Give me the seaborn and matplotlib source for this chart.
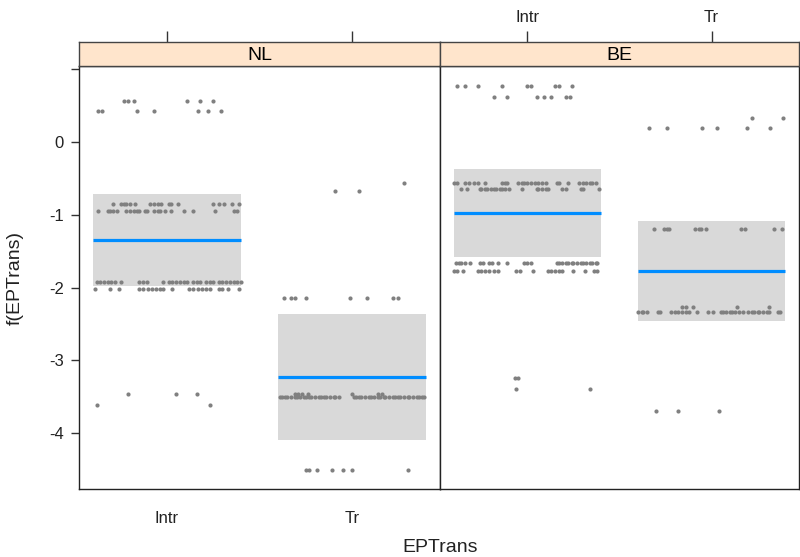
import pandas as pd
import seaborn as sns
import matplotlib.pyplot as plt

sns.set_theme(style="white")
plt.rcParams["font.family"] = ["Liberation Sans", "DejaVu Sans"]

countries = ["NL", "BE"]
levels = ["Intr", "Tr"]

# fitted effect and confidence band per level (Intr, Tr)
fit_nl = [-1.35, -3.23]
lower_nl = [-1.98, -4.10]
upper_nl = [-0.72, -2.37]
fit_be = [-0.98, -1.78]
lower_be = [-1.58, -2.46]
upper_be = [-0.37, -1.08]

# partial residuals: (value, horizontal jitter of each point)
nl_intr_rows = [
    (0.57, [-0.23, -0.21, -0.18, 0.11, 0.18, 0.25]),
    (0.42, [-0.37, -0.35, -0.16, -0.07, 0.17, 0.22, 0.29]),
    (-0.85, [-0.29, -0.25, -0.23, -0.22, -0.20, -0.17, -0.09, -0.07, -0.05, -0.03,
             0.01, 0.02, 0.06, 0.25, 0.28, 0.31, 0.35, 0.39]),
    (-0.95, [-0.37, -0.32, -0.31, -0.29, -0.27, -0.22, -0.20, -0.18, -0.16, -0.15, -0.12,
             -0.11, -0.07, -0.05, -0.04, -0.01, 0.02, 0.09, 0.14, 0.26, 0.36, 0.38]),
    (-1.93, [-0.38, -0.36, -0.34, -0.32, -0.30, -0.28, -0.25, -0.15, -0.13, -0.11,
             -0.02, 0.01, 0.03, 0.05, 0.07, 0.09, 0.11, 0.14, 0.16, 0.18, 0.21, 0.23,
             0.25, 0.28, 0.30, 0.32, 0.34, 0.36, 0.38, 0.40]),
    (-2.02, [-0.39, -0.31, -0.26, -0.15, -0.13, -0.10, -0.08, -0.06, -0.04, -0.02, 0.03,
             0.12, 0.14, 0.17, 0.19, 0.21, 0.23, 0.28, 0.30, 0.33, 0.39]),
    (-3.47, [-0.21, 0.05, 0.16]),
    (-3.62, [-0.38, 0.23]),
]
nl_tr_rows = [
    (-0.56, [0.28]),
    (-0.68, [-0.09, 0.04]),
    (-2.14, [-0.37, -0.33, -0.31, -0.25, -0.01, 0.08, 0.22, 0.25]),
    (-3.47, [-0.31, -0.29, -0.27, -0.24, 0.00, 0.14, 0.16]),
    (-3.51, [-0.39, -0.38, -0.36, -0.35, -0.33, -0.31, -0.30, -0.28, -0.26, -0.25, -0.23,
             -0.22, -0.20, -0.18, -0.17, -0.15, -0.14, -0.12, -0.10, -0.09, -0.07, 0.01,
             0.02, 0.04, 0.05, 0.07, 0.09, 0.10, 0.12, 0.14, 0.15, 0.17, 0.18, 0.20, 0.22,
             0.23, 0.25, 0.26, 0.28, 0.30, 0.31, 0.33, 0.35, 0.36, 0.38, 0.39]),
    (-4.51, [-0.25, -0.23, -0.19, -0.11, -0.05, 0.00, 0.30]),
]
be_intr_rows = [
    (0.77, [-0.38, -0.34, -0.27, -0.14, 0.00, 0.02, 0.15, 0.17, 0.24]),
    (0.62, [-0.18, -0.11, 0.05, 0.09, 0.13, 0.21, 0.23]),
    (-0.57, [-0.40, -0.38, -0.34, -0.32, -0.29, -0.27, -0.23, -0.14, -0.12, -0.11, -0.05,
             -0.03, -0.02, 0.00, 0.02, 0.04, 0.06, 0.08, 0.10, 0.16, 0.17, 0.22, 0.28,
             0.30, 0.32, 0.34, 0.35, 0.37]),
    (-0.65, [-0.36, -0.33, -0.26, -0.25, -0.23, -0.22, -0.20, -0.18, -0.17, -0.15, -0.14,
             -0.12, -0.10, -0.03, 0.05, 0.06, 0.08, 0.10, 0.11, 0.19, 0.21, 0.29, 0.30,
             0.39]),
    (-1.67, [-0.39, -0.37, -0.36, -0.34, -0.31, -0.26, -0.24, -0.21, -0.19, -0.16, -0.11,
             -0.02, 0.00, 0.02, 0.16, 0.17, 0.19, 0.21, 0.22, 0.24, 0.25, 0.27, 0.29,
             0.30, 0.32, 0.34, 0.35, 0.37, 0.38]),
    (-1.78, [-0.40, -0.38, -0.35, -0.27, -0.25, -0.23, -0.21, -0.18, -0.16, -0.06, -0.04,
             0.03, 0.11, 0.13, 0.15, 0.17, 0.19, 0.25, 0.31, 0.36, 0.38]),
    (-3.24, [-0.07, -0.05]),
    (-3.40, [-0.06, 0.34]),
]
be_tr_rows = [
    (0.33, [0.22, 0.39]),
    (0.19, [-0.34, -0.24, -0.05, 0.03, 0.19, 0.32]),
    (-1.19, [-0.31, -0.26, -0.24, -0.23, -0.09, -0.07, -0.06, -0.03, 0.16, 0.18, 0.34, 0.38]),
    (-2.27, [-0.16, -0.14, -0.10, 0.14, 0.31]),
    (-2.34, [-0.40, -0.38, -0.37, -0.35, -0.29, -0.28, -0.22, -0.20, -0.18, -0.16, -0.14,
             -0.12, -0.08, -0.02, 0.01, 0.05, 0.06, 0.08, 0.10, 0.11, 0.13, 0.15, 0.17,
             0.20, 0.22, 0.23, 0.25, 0.26, 0.28, 0.30, 0.31, 0.36, 0.37]),
    (-3.70, [-0.30, -0.18, 0.04]),
]

groups = {
    ("NL", "Intr"): nl_intr_rows,
    ("NL", "Tr"): nl_tr_rows,
    ("BE", "Intr"): be_intr_rows,
    ("BE", "Tr"): be_tr_rows,
}
records = []
for (country, level), rows in groups.items():
    for value, jitter in rows:
        for j in jitter:
            records.append({"country": country, "x": levels.index(level) + j, "y": value})
df = pd.DataFrame(records)

fits = {"NL": (fit_nl, lower_nl, upper_nl), "BE": (fit_be, lower_be, upper_be)}

W, H = 800, 557
fig = plt.figure(figsize=(W / 100, H / 100), dpi=100)
panel_bounds = {"NL": (79, 440), "BE": (440, 799)}
top_px, bottom_px, strip_top = 66, 489, 42
xlim = (-0.475, 1.475)

for i, country in enumerate(countries):
    x0, x1 = panel_bounds[country]
    ax = fig.add_axes([x0 / W, 1 - bottom_px / H, (x1 - x0) / W, (bottom_px - top_px) / H])
    sx = fig.add_axes([x0 / W, 1 - top_px / H, (x1 - x0) / W, (top_px - strip_top) / H])

    fit, lo, hi = fits[country]
    for k in range(len(levels)):
        ax.fill_between([k - 0.4, k + 0.4], lo[k], hi[k], color="#d9d9d9", lw=0, zorder=1)
    sns.scatterplot(data=df[df["country"] == country], x="x", y="y", ax=ax,
                    color="#808080", s=9, linewidth=0, zorder=2)
    for k in range(len(levels)):
        ax.plot([k - 0.4, k + 0.4], [fit[k], fit[k]], color="#008dff", lw=2.3,
                solid_capstyle="butt", zorder=3)

    ax.set_xlim(*xlim)
    ax.set_ylim(-4.77, 1.045)
    ax.set_xticks(range(len(levels)))
    ax.set_xlabel("")
    ax.set_ylabel("")
    for sp in ax.spines.values():
        sp.set_color("#222222")
        sp.set_linewidth(1.0)
    ax.tick_params(axis="both", direction="out", length=6, width=1, color="#333333",
                   labelsize=12, labelcolor="#222222")
    if i == 0:
        ax.set_xticklabels(levels, fontsize=12)
        ax.tick_params(axis="x", pad=10)
        ax.set_yticks([1, 0, -1, -2, -3, -4])
        ax.set_yticklabels(["", "0", "-1", "-2", "-3", "-4"], fontsize=12)
        ax.tick_params(axis="y", left=True, pad=5)
    else:
        ax.set_xticklabels(["", ""])
        ax.set_yticks([])

    # strip with the panel label
    sx.set_xlim(*xlim)
    sx.set_facecolor("#ffe5cc")
    sx.set_yticks([])
    sx.set_xticks(range(len(levels)))
    sx.set_xticklabels(levels if i == 1 else ["", ""], fontsize=12)
    for sp in sx.spines.values():
        sp.set_color("#444444")
        sp.set_linewidth(1.0)
    sx.text(0.5, 0.45, country, transform=sx.transAxes, ha="center", va="center",
            fontsize=14, color="black")
    sx.tick_params(axis="x", bottom=False, top=True, labelbottom=False,
                   labeltop=(i == 1), direction="out", length=8, width=1,
                   color="#333333", labelcolor="#222222", pad=4)

fig.text(440 / W, 1 - 548 / H, "EPTrans", ha="center", va="center", fontsize=14,
         color="#222222")
fig.text(15 / W, 1 - 278 / H, "f(EPTrans)", ha="center", va="center", rotation=90,
         fontsize=14, color="#222222")

fig.savefig("out.png", dpi=100)
